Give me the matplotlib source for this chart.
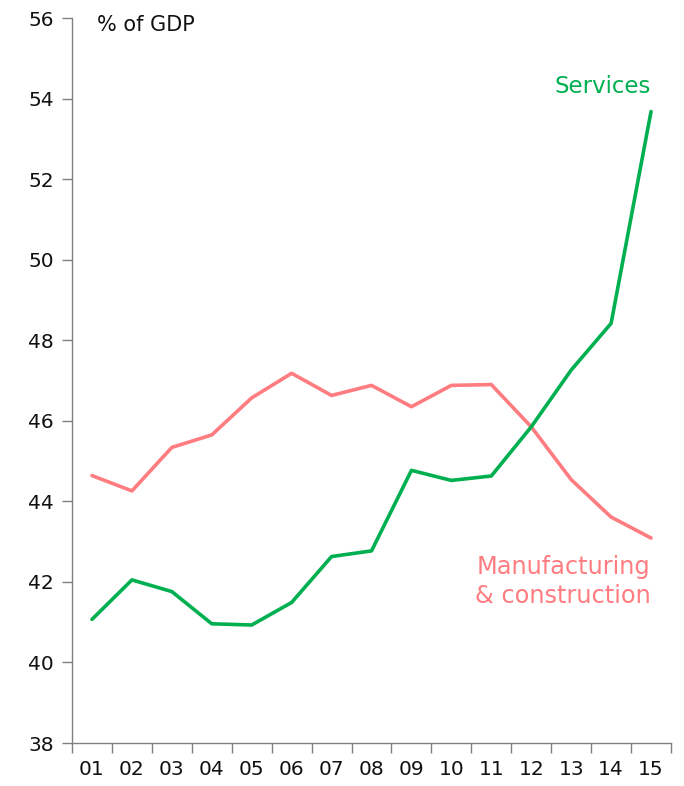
import matplotlib.pyplot as plt
import numpy as np

plt.rcParams['font.family'] = ['DejaVu Sans']

years = ['01', '02', '03', '04', '05', '06', '07', '08', '09', '10', '11', '12', '13', '14', '15']
services = [41.07, 42.05, 41.76, 40.96, 40.93, 41.49, 42.63, 42.77, 44.77, 44.52, 44.63, 45.85, 47.26, 48.42, 53.68]
manufacturing = [44.64, 44.26, 45.34, 45.65, 46.57, 47.18, 46.63, 46.88, 46.35, 46.88, 46.9, 45.85, 44.54, 43.61, 43.09]

green = '#00B050'
pink = '#FF7C80'
grey = '#808080'

fig = plt.figure(figsize=(6.84, 7.86), dpi=100)
ax = fig.add_axes([0.1053, 0.0547, 0.8757, 0.9223])

x = np.arange(1, len(years) + 1)
ax.plot(x, manufacturing, color=pink, lw=2.6, solid_capstyle='round')
ax.plot(x, services, color=green, lw=2.6, solid_capstyle='round')

ax.set_xlim(0.5, 15.5)
ax.set_ylim(38, 56)
ax.set_yticks(np.arange(38, 57, 2))
ax.set_xticks(x)
ax.set_xticklabels(years)
ax.set_xticks(np.arange(0.5, 15.6, 1), minor=True)
ax.tick_params(axis='x', which='major', length=0, pad=12, labelsize=14.5, labelcolor='#111111')
ax.tick_params(axis='x', which='minor', length=7, width=1, color=grey, direction='out')
ax.tick_params(axis='y', length=7, width=1, color=grey, labelsize=14.5, pad=6, labelcolor='#111111')

for s in ['top', 'right']:
    ax.spines[s].set_visible(False)
for s in ['left', 'bottom']:
    ax.spines[s].set_color(grey)
    ax.spines[s].set_linewidth(1)

ax.text(1.13, 55.83, '% of GDP', fontsize=15, ha='left', va='center', color='#111111')
ax.text(15.0, 54.31, 'Services', fontsize=16.5, ha='right', va='center', color=green)
ax.text(15.0, 42.01, 'Manufacturing\n& construction', fontsize=17.3, ha='right', va='center',
        color=pink, multialignment='center', linespacing=1.25)

fig.savefig('out.png', dpi=100)
